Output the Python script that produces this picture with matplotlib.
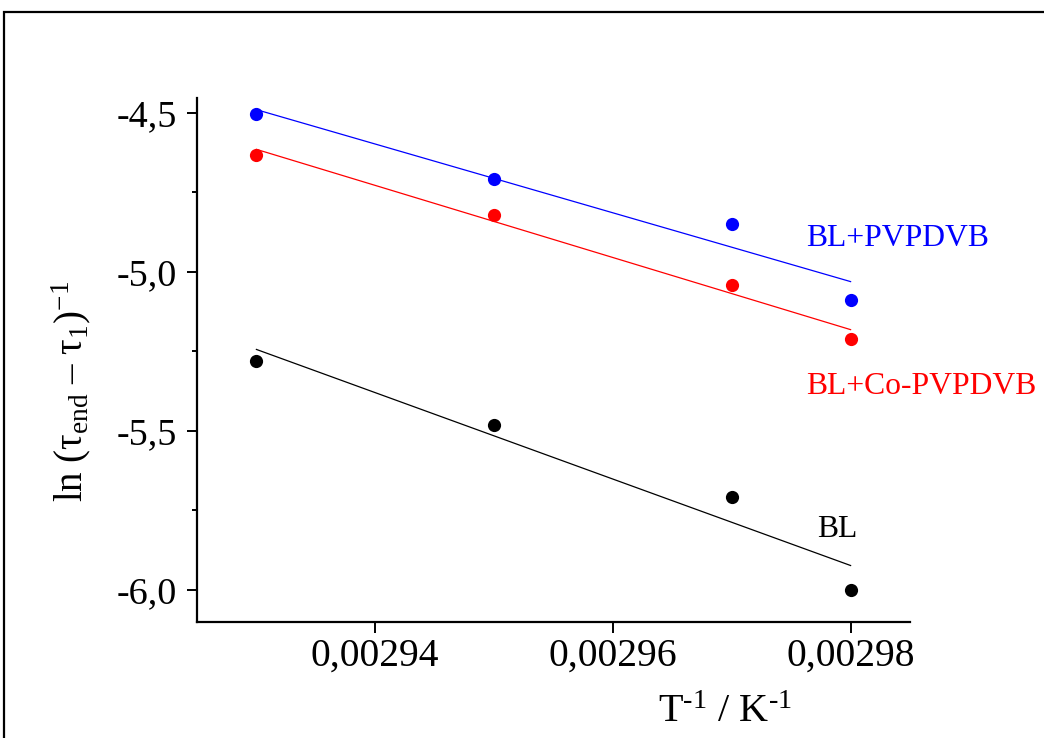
import numpy as np
import matplotlib
matplotlib.use("Agg")
import matplotlib.pyplot as plt
from matplotlib.patches import Rectangle
from matplotlib.ticker import MultipleLocator

plt.rcParams["font.family"] = ["Liberation Serif", "DejaVu Serif"]
plt.rcParams["mathtext.fontset"] = "custom"
plt.rcParams["mathtext.rm"] = "Liberation Serif"
plt.rcParams["mathtext.it"] = "Liberation Serif:italic"

# inverse temperature, 1/K
inv_T = [0.00293, 0.00295, 0.00297, 0.00298]

# ln(tau_end - tau_1)^-1 for each sample
bl_pvpdvb = [-4.503, -4.708, -4.849, -5.088]
bl_co_pvpdvb = [-4.632, -4.821, -5.041, -5.211]
bl = [-5.280, -5.481, -5.708, -6.000]

series_names = ["BL+PVPDVB", "BL+Co-PVPDVB", "BL"]
series_colors = ["#0000ff", "#ff0000", "#000000"]

xticks = [0.00294, 0.00296, 0.00298]
xtick_labels = ["0,00294", "0,00296", "0,00298"]
yticks = [-4.5, -5.0, -5.5, -6.0]
ytick_labels = ["-4,5", "-5,0", "-5,5", "-6,0"]

W, H = 1044, 738
fig = plt.figure(figsize=(W / 100, H / 100), dpi=100)
ax = fig.add_axes([197 / W, 1 - 622 / H, (910 - 197) / W, (622 - 98) / H])

x = np.array(inv_T)
for vals, color in zip([bl_pvpdvb, bl_co_pvpdvb, bl], series_colors):
    y = np.array(vals)
    slope, icpt = np.polyfit(x, y, 1)   # linear (Arrhenius) fit
    ax.plot(x, slope * x + icpt, color=color, lw=0.9)
    ax.plot(x, y, "o", color=color, ms=9.5, mec="none")

ax.set_xlim(0.0029250, 0.0029850)
ax.set_ylim(-6.1006, -4.453)

ax.set_xticks(xticks)
ax.set_xticklabels(xtick_labels)
ax.xaxis.set_minor_locator(MultipleLocator(0.00002))
ax.set_yticks(yticks)
ax.set_yticklabels(ytick_labels)
ax.yaxis.set_minor_locator(MultipleLocator(0.25))

for s in ["top", "right"]:
    ax.spines[s].set_visible(False)
for s in ["left", "bottom"]:
    ax.spines[s].set_linewidth(1.6)

ax.tick_params(which="major", direction="out", width=1.4)
ax.tick_params(which="minor", direction="out", length=3.6, width=1.4)
ax.tick_params(axis="x", which="major", length=8, pad=3, labelsize=28.5)
ax.tick_params(axis="y", which="major", length=7.2, pad=7, labelsize=27.5)

ax.set_xlabel("T$^{\\mathregular{\u20101}}$ / K$^{\\mathregular{\u20101}}$", fontsize=29)
ax.xaxis.set_label_coords((725 - 197) / (910 - 197), -0.137)
ax.set_ylabel(r"ln ($\mathregular{\tau_{end}}$ – $\mathregular{\tau_1}$)$^{\mathregular{-1}}$", fontsize=28)
ax.yaxis.set_label_coords(-0.146, 0.44)

label_pos = [(806, 246), (806, 394), (817, 537)]
for name, color, (px, py) in zip(series_names, series_colors, label_pos):
    fig.text(px / W, 1 - py / H, name, color=color, fontsize=22.8, va="baseline", ha="left")

# frame round the whole picture
fig.patches.append(Rectangle((4 / W, -0.1), 1.2, 1.1 - 12 / H, transform=fig.transFigure,
                             fill=False, lw=1.6, ec="black"))

fig.savefig("out.png", dpi=100)
